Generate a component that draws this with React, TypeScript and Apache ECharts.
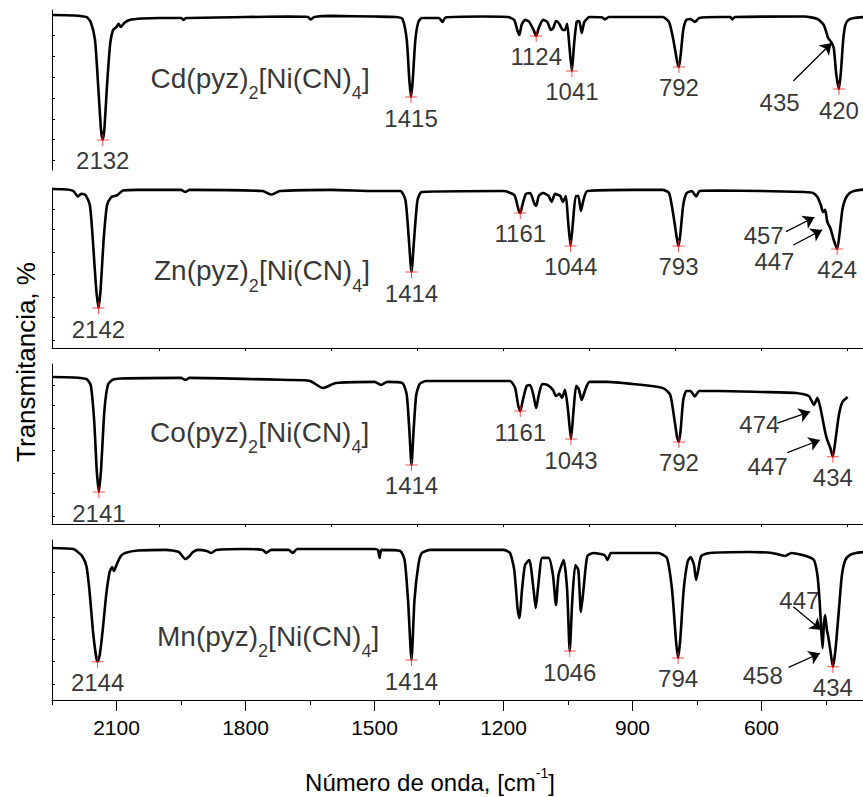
import React, { useEffect, useRef } from "react";
import * as echarts from "echarts";

type Pt = [number, number];

const FONT = "'Liberation Sans', Arial, Helvetica, sans-serif";

const metals = ["Cd", "Zn", "Co", "Mn"];

// wavenumber (cm-1), transmittance (%)
const cdSpectrum: Pt[] = [
  [2250, 96.9], [2200, 96.6], [2170, 95.6], [2160, 92.5], [2150, 81.3], [2142, 50], [2136, 25], [2132, 18.8],
  [2128, 26.3], [2122, 53.1], [2115, 78.1], [2108, 87.5], [2100, 89.4], [2095, 91.3], [2090, 89.4], [2082, 91.9],
  [2070, 93.8], [2040, 94.7], [2000, 95], [1950, 95], [1944, 93.8], [1938, 95], [1800, 95.6], [1700, 95.9],
  [1655, 95.6], [1648, 94.1], [1640, 95.6], [1600, 96.3], [1500, 95.9], [1450, 95.6], [1435, 94.4], [1425, 81.3],
  [1419, 56.3], [1415, 45.6], [1411, 56.3], [1405, 81.3], [1398, 92.5], [1390, 95], [1350, 95], [1342, 92.5],
  [1335, 95.3], [1250, 95.9], [1190, 95.6], [1175, 93.8], [1168, 87.5], [1163, 84.4], [1158, 90.6], [1150, 93.8],
  [1140, 92.5], [1130, 87.5], [1124, 83.8], [1118, 88.8], [1108, 93.8], [1098, 92.5], [1090, 87.5], [1084, 88.8],
  [1078, 93.1], [1070, 91.3], [1062, 87.5], [1057, 87.5], [1052, 91.3], [1047, 78.1], [1041, 61.9], [1036, 78.1],
  [1030, 92.5], [1024, 93.1], [1018, 85.6], [1012, 92.5], [1000, 95.6], [970, 95.3], [964, 94.1], [955, 95.6],
  [830, 95.6], [815, 92.5], [805, 81.3], [796, 67.5], [792, 64.4], [788, 71.9], [782, 87.5], [775, 93.8],
  [765, 94.4], [755, 92.5], [745, 95], [700, 95.6], [672, 95.6], [668, 94.1], [662, 95.6], [500, 95.9],
  [470, 94.4], [455, 90.6], [445, 82.5], [438, 80], [432, 76.3], [426, 59.4], [420, 50.6], [415, 62.5],
  [410, 81.3], [405, 90.6], [398, 93.8], [385, 95], [360, 95.6],
];

const znSpectrum: Pt[] = [
  [2250, 99.4], [2215, 99.1], [2200, 98.1], [2190, 94.7], [2182, 96.3], [2172, 95.6], [2162, 89.4], [2155, 67.5],
  [2148, 39.4], [2142, 25], [2137, 36.3], [2130, 67.5], [2122, 89.4], [2112, 94.4], [2105, 95], [2098, 95.6],
  [2085, 98.4], [2050, 98.8], [1950, 98.8], [1940, 97.5], [1930, 98.8], [1760, 98.1], [1740, 95.9], [1720, 98.1],
  [1600, 98.8], [1500, 98.1], [1440, 98.1], [1428, 92.5], [1420, 67.5], [1414, 47.5], [1408, 67.5], [1400, 92.5],
  [1390, 97.5], [1200, 98.1], [1175, 95.6], [1165, 86.3], [1161, 84.4], [1156, 89.4], [1148, 96.3], [1138, 96.9],
  [1128, 90], [1124, 88.8], [1118, 95], [1108, 96.9], [1095, 95], [1088, 91.3], [1080, 96.3], [1068, 95],
  [1062, 91.3], [1055, 95], [1050, 80], [1044, 63.8], [1038, 80], [1032, 95], [1026, 95], [1020, 85.6],
  [1014, 92.5], [1005, 98.1], [900, 98.8], [830, 98.8], [815, 96.9], [805, 83.1], [797, 68.8], [793, 63.8],
  [789, 70.6], [782, 89.4], [774, 96.9], [762, 98.1], [752, 94.7], [744, 98.1], [700, 98.4], [600, 98.1],
  [500, 97.5], [480, 96.9], [470, 94.4], [462, 89.4], [457, 85], [452, 86.3], [447, 78.8], [440, 75],
  [432, 67.5], [424, 61.9], [418, 72.5], [412, 86.3], [405, 93.1], [395, 96.9], [380, 98.4], [360, 99.1],
];

const coSpectrum: Pt[] = [
  [2250, 91.9], [2200, 91.6], [2170, 90.6], [2160, 86.9], [2152, 65], [2146, 33.8], [2141, 20], [2136, 33.8],
  [2128, 71.3], [2120, 86.9], [2110, 90], [2090, 90.9], [1950, 91.3], [1940, 90], [1930, 91.3], [1700, 90],
  [1650, 89.4], [1620, 85], [1590, 88.1], [1500, 88.8], [1485, 86.9], [1470, 88.8], [1435, 88.1], [1425, 80.6],
  [1419, 58.8], [1414, 36.9], [1409, 58.8], [1403, 80.6], [1395, 87.5], [1380, 89.4], [1185, 89.4], [1173, 85],
  [1166, 74.4], [1161, 70.6], [1155, 77.5], [1146, 86.3], [1138, 86.9], [1130, 80], [1124, 72.5], [1118, 80.6],
  [1110, 87.5], [1098, 86.9], [1085, 83.8], [1078, 80], [1070, 81.3], [1064, 78.8], [1057, 83.8], [1050, 71.3],
  [1043, 53.1], [1037, 71.3], [1031, 86.3], [1025, 84.4], [1018, 77.5], [1010, 83.8], [1000, 88.8], [960, 88.8],
  [900, 87.5], [840, 85.6], [825, 84.4], [812, 80.6], [803, 66.3], [796, 53.8], [792, 51.3], [788, 58.8],
  [782, 77.5], [775, 83.1], [765, 83.1], [755, 79.7], [745, 83.1], [700, 83.1], [600, 82.5], [520, 81.9],
  [490, 80], [478, 74.4], [470, 78.8], [462, 71.3], [452, 57.5], [447, 52.5], [440, 47.5], [434, 42.1],
  [428, 52.5], [420, 68.1], [412, 76.3], [402, 78.8], [400, 79.4],
];

const mnSpectrum: Pt[] = [
  [2250, 95], [2200, 94.4], [2190, 92.5], [2180, 90], [2170, 83.8], [2163, 68.8], [2155, 43.8], [2148, 28.1],
  [2144, 23.9], [2139, 28.1], [2132, 43.8], [2124, 65.6], [2116, 80], [2110, 83.1], [2106, 80.6], [2100, 84.4],
  [2090, 90], [2080, 91.9], [2050, 93.4], [1985, 93.8], [1955, 92.5], [1940, 88.1], [1930, 90], [1922, 92.5],
  [1910, 93.8], [1890, 93.1], [1880, 91.9], [1868, 93.8], [1800, 94.4], [1760, 93.8], [1752, 91.9], [1740, 93.8],
  [1700, 93.8], [1690, 91.9], [1680, 94.4], [1500, 94.4], [1492, 93.8], [1488, 88.8], [1484, 93.8], [1440, 93.1],
  [1430, 87.5], [1422, 62.5], [1414, 25], [1407, 62.5], [1398, 84.4], [1390, 91.9], [1370, 93.8], [1200, 93.8],
  [1185, 91.9], [1175, 81.3], [1167, 56.3], [1163, 51.3], [1157, 68.8], [1150, 84.4], [1140, 87.5], [1130, 68.8],
  [1125, 57.5], [1119, 71.9], [1110, 88.8], [1095, 88.8], [1085, 78.1], [1078, 59.4], [1072, 78.1], [1060, 87.5],
  [1052, 68.8], [1046, 30.6], [1040, 62.5], [1033, 84.4], [1026, 81.3], [1020, 55], [1014, 68.8], [1005, 90],
  [990, 91.9], [965, 90.6], [958, 87.5], [950, 91.9], [840, 91.9], [820, 88.8], [808, 68.8], [799, 37.5],
  [794, 26.3], [789, 37.5], [781, 68.8], [772, 86.3], [765, 89.4], [757, 84.4], [752, 75], [747, 81.3],
  [740, 90], [720, 91.9], [630, 92.5], [575, 91.9], [545, 90], [530, 91.9], [505, 90.6], [490, 89.4],
  [478, 87.5], [470, 78.1], [465, 62.5], [461, 43.8], [458, 32.5], [455, 46.9], [452, 53.1], [448, 43.8],
  [445, 40], [440, 31.3], [434, 20.8], [428, 31.3], [420, 56.3], [413, 78.1], [405, 87.5], [395, 90.6],
  [380, 91.9], [360, 92.5],
];

// marked peak minima
const cdPeaks: Pt[] = [[2132, 18.8], [1415, 45.6], [1124, 83.8], [1041, 61.9], [792, 64.4], [420, 50.6]];
const znPeaks: Pt[] = [[2142, 25], [1414, 47.5], [1161, 84.4], [1044, 63.8], [793, 63.8], [424, 61.9]];
const coPeaks: Pt[] = [[2141, 20], [1414, 36.9], [1161, 70.6], [1043, 53.1], [792, 51.3], [434, 42.1]];
const mnPeaks: Pt[] = [[2144, 23.9], [1414, 25], [1046, 30.6], [794, 26.3], [434, 20.8]];

// shoulder notes: text, label anchor, arrow tail, arrow head
type Note = { text: string; at: Pt; from: Pt; to: Pt };
const cdNotes: Note[] = [{ text: "435", at: [558, 42.5], from: [526, 55.6], to: [437, 79.4] }];
const znNotes: Note[] = [
  { text: "457", at: [595, 70.6], from: [543, 72.7], to: [477, 81.7] },
  { text: "447", at: [570, 53.9], from: [526, 64.4], to: [459, 73.8] },
];
const coNotes: Note[] = [
  { text: "474", at: [605, 61.9], from: [563, 63.1], to: [487, 70.2] },
  { text: "447", at: [586, 35.8], from: [540, 44.6], to: [464, 52.5] },
];
const mnNotes: Note[] = [
  { text: "447", at: [512, 62.5], from: [526, 58.3], to: [461, 43.8] },
  { text: "458", at: [597, 15.6], from: [537, 20.4], to: [464, 29.2] },
];

const nameAnchors: Pt[] = [[2022, 54.1], [2014, 45.3], [2023, 54.1], [2007, 36.6]];

const majorXTicks = [600, 900, 1200, 1500, 1800, 2100];
const minorXTicks = [450, 750, 1050, 1350, 1650, 1950, 2250];
const panelXTicks = [400, 600, 800, 1000, 1200, 1400, 1600, 1800, 2000];
const yTicks = [
  [6, 19, 32, 45, 58, 71, 84],
  [5, 19, 32, 46, 60, 74, 87],
  [5, 19, 32, 46, 60, 74, 87],
  [10, 24, 38, 52, 66, 80],
];

const spectra = [cdSpectrum, znSpectrum, coSpectrum, mnSpectrum];
const peaks = [cdPeaks, znPeaks, coPeaks, mnPeaks];
const notes = [cdNotes, znNotes, coNotes, mnNotes];

const panelTops = [10, 188, 364, 540];
const PLUS = "path://M0,5.5H12V6.5H0Z M5.5,0H6.5V12H5.5Z";

function buildOption(): any {
  const grid = panelTops.map((t) => ({
    left: 52, top: t, width: 838.5, height: 160, outerBoundsMode: "none", containLabel: false,
  }));
  const xAxis: any[] = panelTops.map((_, i) => ({
    type: "value", gridIndex: i, min: 300, max: 2250, inverse: true, position: "bottom",
    axisLine: { show: i > 0, onZero: false, lineStyle: { color: "#000", width: 1 } },
    axisTick:
      i === 3
        ? { show: true, inside: false, length: 11, customValues: majorXTicks, lineStyle: { color: "#000", width: 1 } }
        : { show: i > 0, inside: false, length: 3, customValues: panelXTicks, lineStyle: { color: "#000", width: 1 } },
    axisLabel:
      i === 3
        ? {
            show: true, customValues: majorXTicks, fontSize: 21, color: "#000", margin: 17, fontFamily: FONT,
            formatter: (v: number) => String(v),
          }
        : { show: false },
    splitLine: { show: false },
    minorTick: { show: false },
  }));
  xAxis.push({
    type: "value", gridIndex: 3, min: 300, max: 2250, inverse: true, position: "bottom",
    axisLine: { show: false, onZero: false },
    axisTick: { show: true, inside: false, length: 5, customValues: minorXTicks, lineStyle: { color: "#000", width: 1 } },
    axisLabel: { show: false },
    splitLine: { show: false },
  });
  const yAxis = panelTops.map((_, i) => ({
    type: "value", gridIndex: i, min: 0, max: 100,
    axisLine: { show: true, onZero: false, lineStyle: { color: "#000", width: 1 } },
    axisTick: { show: true, inside: true, length: 3, customValues: yTicks[i], lineStyle: { color: "#000", width: 1 } },
    axisLabel: { show: false },
    splitLine: { show: false },
  }));

  const series: any[] = [];
  spectra.forEach((data, i) => {
    series.push({
      type: "line", xAxisIndex: i, yAxisIndex: i, data, showSymbol: false, symbol: "none",
      smooth: 0.2, lineStyle: { color: "#000", width: 2.6 }, silent: true, z: 2,
    });
    series.push({
      type: "scatter", xAxisIndex: i, yAxisIndex: i, data: peaks[i], symbol: PLUS, symbolSize: 12,
      itemStyle: { color: "#ff2020" }, silent: true, z: 3,
      label: {
        show: true, position: "bottom", distance: 3, fontSize: 24, color: "#000", fontFamily: FONT,
        formatter: (p: any) => String(p.value[0]),
      },
    });
    series.push({
      type: "scatter", xAxisIndex: i, yAxisIndex: i, silent: true, z: 3,
      data: notes[i].map((n) => ({ value: n.at, name: n.text })),
      symbolSize: 1, itemStyle: { color: "rgba(0,0,0,0)" },
      label: { show: true, position: "inside", formatter: "{b}", fontSize: 24, color: "#000", fontFamily: FONT },
      markLine: {
        silent: true, animation: false, symbol: ["none", "arrow"], symbolSize: 11,
        lineStyle: { color: "#000", width: 1.3, type: "solid" },
        label: { show: false },
        emphasis: { disabled: true },
        data: notes[i].map((n) => [{ coord: n.from }, { coord: n.to }]),
      },
    });
    series.push({
      type: "scatter", xAxisIndex: i, yAxisIndex: i, silent: true, z: 3,
      data: [{ value: nameAnchors[i], name: metals[i] }],
      symbolSize: 1, itemStyle: { color: "rgba(0,0,0,0)" },
      label: {
        show: true, position: "right", distance: 0,
        formatter: `{m|${metals[i]}(pyz)}{s|2}{m|[Ni(CN)}{s|4}{m|]}`,
        rich: {
          m: { fontSize: 28, fontFamily: FONT, color: "#000", verticalAlign: "top" },
          s: { fontSize: 18, fontFamily: FONT, color: "#000", verticalAlign: "top", padding: [20, 0, 0, 0] },
        },
      },
    });
  });

  return {
    animation: false,
    backgroundColor: "#fff",
    textStyle: { fontFamily: FONT },
    grid,
    xAxis,
    yAxis,
    series,
    graphic: [
      {
        type: "text", x: 26, y: 362, rotation: Math.PI / 2, silent: true,
        style: {
          text: "Transmitancia, %", fontSize: 26, fontFamily: FONT, fill: "#000",
          align: "center", verticalAlign: "middle", textAlign: "center", textVerticalAlign: "middle",
        },
      },
      {
        type: "text", x: 430, y: 780, silent: true,
        style: {
          text: "{n|Número de onda, [cm}{p|-1}{n|]}",
          fill: "#000", align: "center", verticalAlign: "middle", textAlign: "center", textVerticalAlign: "middle",
          rich: {
            n: { fontSize: 24, fontFamily: FONT, fill: "#000", color: "#000", verticalAlign: "top", padding: [4, 0, 0, 0] },
            p: { fontSize: 14, fontFamily: FONT, fill: "#000", color: "#000", verticalAlign: "top" },
          },
        },
      },
    ],
  };
}

export default function App() {
  const ref = useRef<HTMLDivElement>(null);
  useEffect(() => {
    if (!ref.current) return;
    const chart = echarts.init(ref.current, undefined, { renderer: "svg" });
    chart.setOption(buildOption());
    return () => chart.dispose();
  }, []);
  return (
    <div
      ref={ref}
      style={{ position: "absolute", left: 0, top: 0, width: 863, height: 797, background: "#fff" }}
    />
  );
}
